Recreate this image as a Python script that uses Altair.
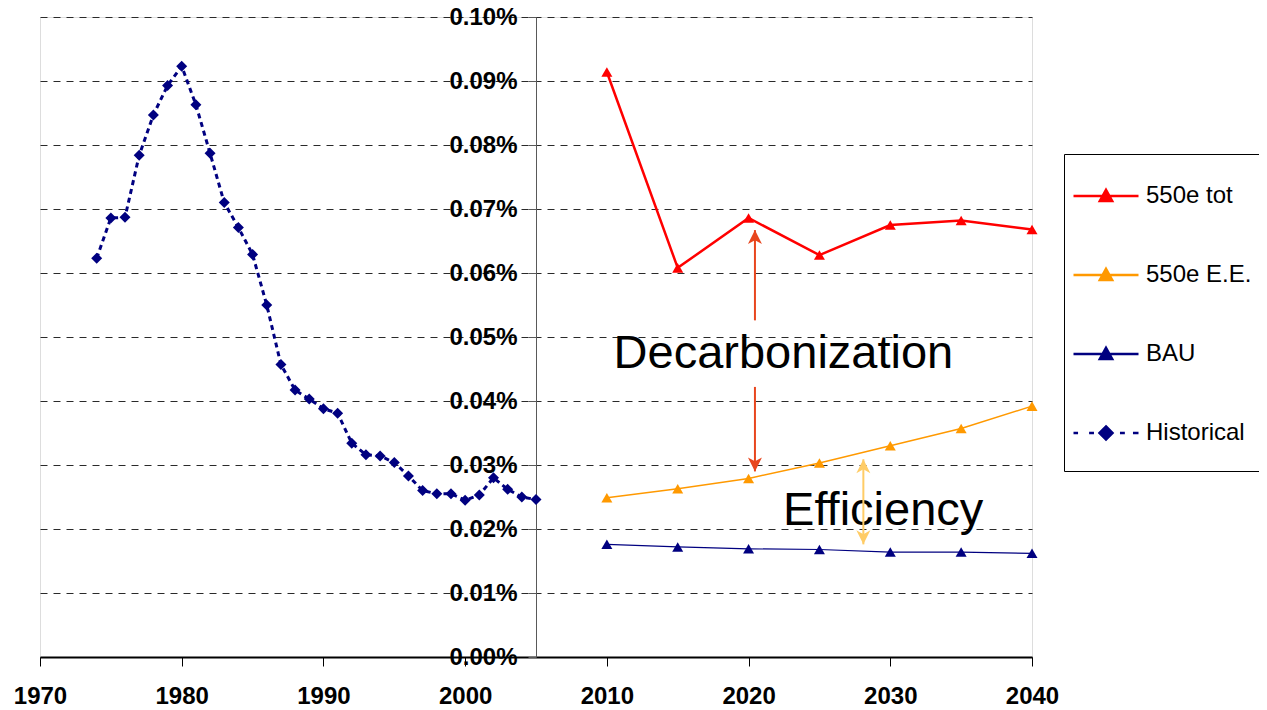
import altair as alt
import pandas as pd

FONT = "Liberation Sans"

# ---- data (values in percent) ----
hist_years = [1974, 1975, 1976, 1977, 1978, 1979, 1980, 1981, 1982, 1983, 1984,
              1985, 1986, 1987, 1988, 1989, 1990, 1991, 1992, 1993, 1994, 1995,
              1996, 1997, 1998, 1999, 2000, 2001, 2002, 2003, 2004, 2005]
hist_vals = [0.0623, 0.0686, 0.0687, 0.0784, 0.0847, 0.0893, 0.0923, 0.0863,
             0.0787, 0.0710, 0.0671, 0.0629, 0.0550, 0.0457, 0.0417, 0.0403,
             0.0388, 0.0381, 0.0334, 0.0316, 0.0314, 0.0304, 0.0283, 0.0260,
             0.0255, 0.0255, 0.0245, 0.0253, 0.0280, 0.0262, 0.0250, 0.0246]

proj_years = [2010, 2015, 2020, 2025, 2030, 2035, 2040]
tot_vals = [0.0914, 0.0608, 0.0686, 0.0628, 0.0675, 0.0682, 0.0668]
ee_vals = [0.0249, 0.0263, 0.0279, 0.0303, 0.0330, 0.0357, 0.0392]
bau_vals = [0.0176, 0.0172, 0.0169, 0.0168, 0.0164, 0.0164, 0.0162]

series_names = ["550e tot", "550e E.E.", "BAU", "Historical"]
series_colors = ["#FF0000", "#FF9900", "#000080", "#000080"]

x_ticks = [1970, 1980, 1990, 2000, 2010, 2020, 2030, 2040]
y_ticks = [0.00, 0.01, 0.02, 0.03, 0.04, 0.05, 0.06, 0.07, 0.08, 0.09, 0.10]

ann_labels = ["Decarbonization", "Efficiency"]
ann_x = [2022.46, 2029.5]
ann_y = [0.0452, 0.0207]

seg_x = [2020.45, 2020.45, 2028.1]
seg_from = [0.0526, 0.0422, 0.0176]
seg_to = [0.0667, 0.0290, 0.0309]
seg_color = ["#E8461E", "#E8461E", "#FFCC66"]

up_x = [2020.45, 2028.1]
up_y = [0.0667, 0.0309]
up_color = ["#E8461E", "#FFCC66"]
down_x = [2020.45, 2028.1]
down_y = [0.0290, 0.0176]
down_color = ["#E8461E", "#FFCC66"]

# ---- symbol paths ----
TRI = "M0,-0.19L0.19,0.15L-0.19,0.15Z"
legend_paths = [
    "M-1,0H1" + TRI,
    "M-1,0H1" + TRI,
    "M-1,0H1" + TRI,
    "M-1,0H-0.86M-0.52,0H-0.37M0.43,0H0.58M0.83,0H1M0,-0.2L0.2,0L0,0.2L-0.2,0Z",
]
HEAD_UP = "M0,0L0.5,1L0,0.72L-0.5,1Z"
HEAD_DOWN = "M0,0L0.5,-1L0,-0.72L-0.5,-1Z"

# ---- tables ----
hist_df = pd.DataFrame({"year": hist_years, "value": hist_vals, "series": "Historical"})
tot_df = pd.DataFrame({"year": proj_years, "value": tot_vals, "series": "550e tot"})
ee_df = pd.DataFrame({"year": proj_years, "value": ee_vals, "series": "550e E.E."})
bau_df = pd.DataFrame({"year": proj_years, "value": bau_vals, "series": "BAU"})
all_df = pd.concat([tot_df, ee_df, bau_df, hist_df], ignore_index=True)
ann_df = pd.DataFrame({"year": ann_x, "value": ann_y, "label": ann_labels})
seg_df = pd.DataFrame({"year": seg_x, "value": seg_from, "value2": seg_to, "color": seg_color})
up_df = pd.DataFrame({"year": up_x, "value": up_y, "color": up_color})
down_df = pd.DataFrame({"year": down_x, "value": down_y, "color": down_color})

X = alt.X("year:Q",
          scale=alt.Scale(domain=[1970, 2040], nice=False, zero=False),
          axis=alt.Axis(values=x_ticks, format="d", title=None, grid=False,
                        labelFont=FONT, labelFontSize=24, labelFontWeight="bold",
                        labelColor="black", tickSize=9, tickColor="black",
                        domainColor="black", domainWidth=2, labelPadding=18,
                        labelFlush=False, labelOverlap=False))
Y = alt.Y("value:Q",
          scale=alt.Scale(domain=[0, 0.1], nice=False, zero=True),
          axis=alt.Axis(values=y_ticks, labelExpr="format(datum.value, '.2f') + '%'",
                        title=None, offset=-496, grid=True, gridDash=[7, 6],
                        gridColor="#2A2A2A", gridWidth=1,
                        labelFont=FONT, labelFontSize=24, labelFontWeight="bold",
                        labelColor="black", tickSize=8, tickColor="#595959",
                        domainColor="#595959", labelPadding=11,
                        labelFlush=False, labelOverlap=False))

leg = alt.Legend(orient="none", legendX=1024, legendY=137, title=" ",
                 titleOrient="bottom", titleFontSize=10, titlePadding=8,
                 padding=8,
                 strokeColor="black", fillColor="white", symbolSize=4225,
                 symbolStrokeWidth=2.5, labelFont=FONT, labelFontSize=24,
                 labelColor="black", labelOffset=6, rowPadding=33, symbolOpacity=1,
                 labelLimit=300, cornerRadius=0)


def series_layers(df, color, width, shape, dash=None):
    line_kw = dict(color=color, strokeWidth=width)
    if dash:
        line_kw["strokeDash"] = dash
    line = alt.Chart(df).mark_line(**line_kw).encode(x=X, y=Y)
    pts = alt.Chart(df).mark_point(shape=shape, filled=True, size=121, color=color,
                                   opacity=1, strokeWidth=0).encode(x=X, y=Y)
    return [line, pts]


layers = []
layers += series_layers(hist_df, "#000080", 3, "diamond", [5, 4])
layers += series_layers(bau_df, "#000080", 1.2, "triangle-up")
layers += series_layers(ee_df, "#FF9900", 1.5, "triangle-up")
layers += series_layers(tot_df, "#FF0000", 2.5, "triangle-up")

legend_layer = alt.Chart(all_df).mark_point(filled=True, opacity=0).encode(
    x=X, y=Y,
    fill=alt.Fill("series:N", scale=alt.Scale(domain=series_names, range=series_colors), legend=leg),
    stroke=alt.Stroke("series:N", scale=alt.Scale(domain=series_names, range=series_colors), legend=leg),
    shape=alt.Shape("series:N", scale=alt.Scale(domain=series_names, range=legend_paths), legend=leg),
)
layers.append(legend_layer)

text_layer = alt.Chart(ann_df).mark_text(font=FONT, fontSize=47, color="black",
                                         align="center", baseline="alphabetic").encode(
    x=X, y=Y, text="label:N")
layers.append(text_layer)

seg_layer = alt.Chart(seg_df).mark_rule(strokeWidth=2).encode(
    x=X, y=Y, y2="value2:Q", color=alt.Color("color:N", scale=None))
up_layer = alt.Chart(up_df).mark_point(shape=HEAD_UP, filled=True, size=784, opacity=1,
                                       strokeWidth=0).encode(
    x=X, y=Y, color=alt.Color("color:N", scale=None))
down_layer = alt.Chart(down_df).mark_point(shape=HEAD_DOWN, filled=True, size=784, opacity=1,
                                           strokeWidth=0).encode(
    x=X, y=Y, color=alt.Color("color:N", scale=None))
layers += [seg_layer, up_layer, down_layer]

chart = alt.layer(*layers).properties(
    width=992, height=640,
    autosize=alt.AutoSizeParams(type="none"),
    padding={"left": 32, "top": 9, "right": 227, "bottom": 52},
).configure_view(stroke="#A6A6A6", strokeWidth=2).configure(background="white")

chart.save("out.html", embed_options={"renderer": "svg", "actions": False})
